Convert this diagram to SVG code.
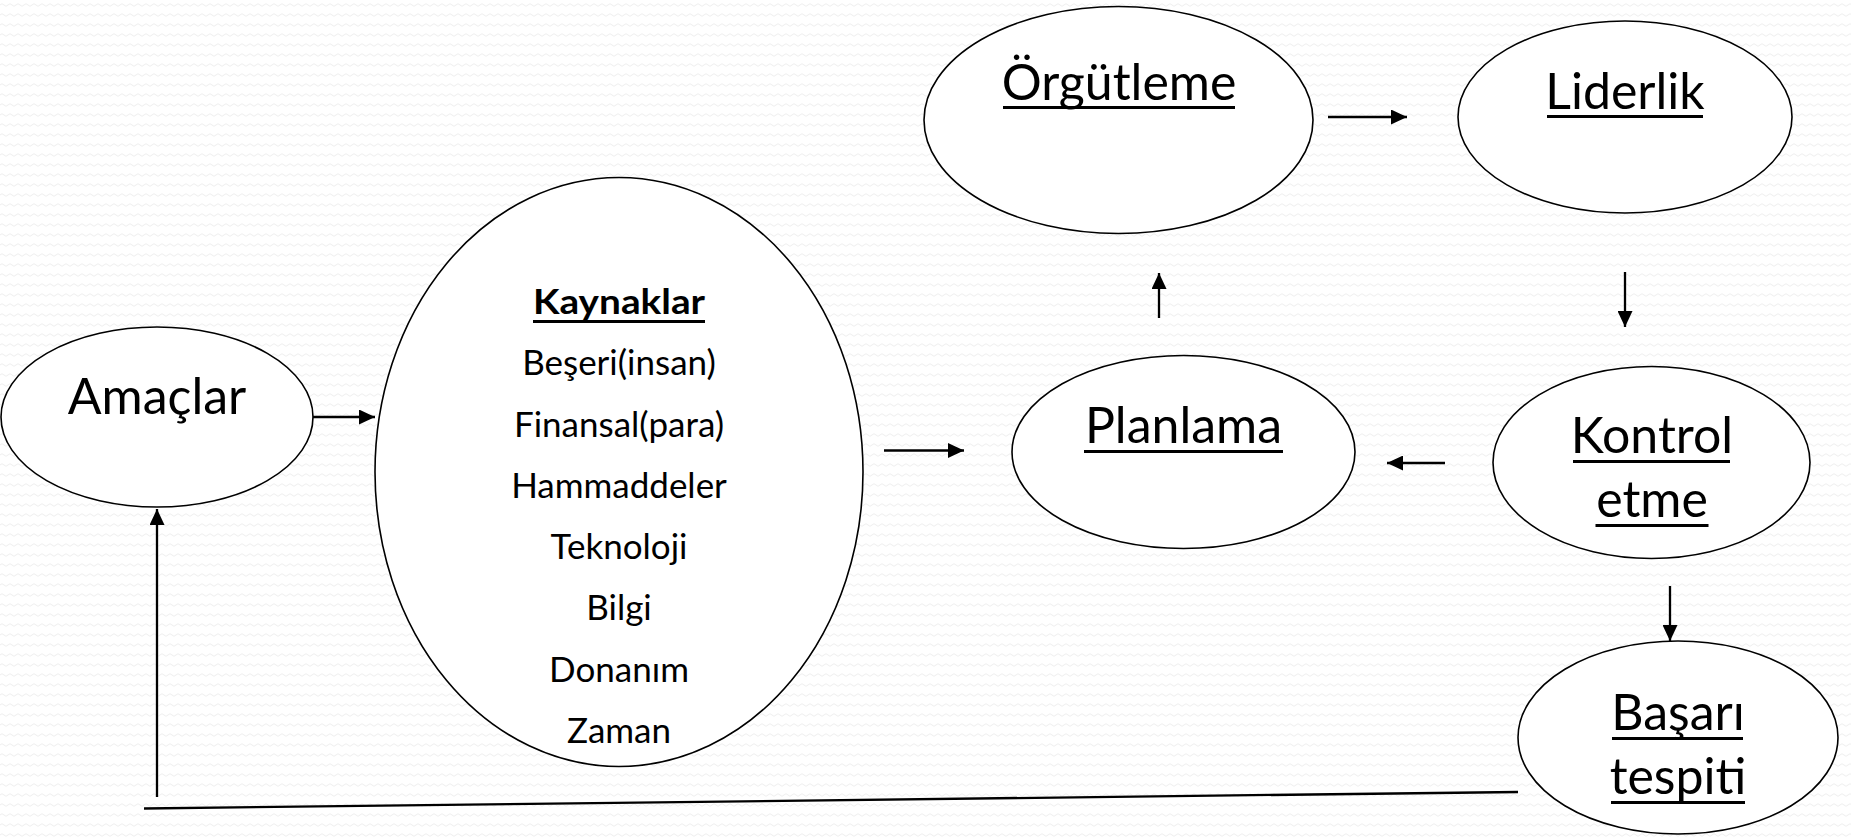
<svg xmlns="http://www.w3.org/2000/svg" width="1851" height="838" viewBox="0 0 1851 838">
  <defs>
    <pattern id="bg" width="8" height="10" patternUnits="userSpaceOnUse">
      <path d="M0 5 Q2 2.5 4 5 T8 5" fill="none" stroke="#ececec" stroke-width="0.9"/>
    </pattern>
    <marker id="ah" markerUnits="userSpaceOnUse" markerWidth="16" markerHeight="15" refX="16" refY="7.5" orient="auto">
      <path d="M0,0 L16,7.5 L0,15 z" fill="#000"/>
    </marker>
    <style>
      .node { fill: #ffffff; stroke: #000000; stroke-width: 1.6; }
      .lbl { font-family: Lato, "Open Sans", "Liberation Sans", sans-serif; font-size: 50px; fill: #000; text-anchor: middle; }
      .item { font-family: Lato, "Open Sans", "Liberation Sans", sans-serif; font-size: 35px; fill: #000; text-anchor: middle; }
      .uline { stroke: #000; stroke-width: 3; }
      .conn { stroke: #000; stroke-width: 2.3; fill: none; }
      .arrow { marker-end: url(#ah); }
    </style>
  </defs>
  <rect width="1851" height="838" fill="#ffffff"/>
  <rect width="1851" height="838" fill="url(#bg)"/>

  <g id="connectors">
    <line class="conn arrow" x1="281" y1="417" x2="375" y2="417"/>
    <line class="conn arrow" x1="884" y1="450.5" x2="964" y2="450.5"/>
    <line class="conn arrow" x1="1159" y1="318" x2="1159" y2="273"/>
    <line class="conn arrow" x1="1328" y1="117" x2="1407" y2="117"/>
    <line class="conn arrow" x1="1625" y1="272" x2="1625" y2="327"/>
    <line class="conn arrow" x1="1445" y1="463" x2="1387" y2="463"/>
    <line class="conn arrow" x1="1670" y1="586" x2="1670" y2="641"/>
    <line class="conn" x1="1518" y1="792" x2="144" y2="808.5"/>
    <line class="conn arrow" x1="157" y1="797" x2="157" y2="509"/>
  </g>

  <g id="amaclar">
    <ellipse class="node" cx="157" cy="417" rx="156" ry="90"/>
    <text class="lbl" x="157" y="414">Amaçlar</text>
  </g>

  <g id="kaynaklar">
    <ellipse class="node" cx="619" cy="472" rx="244" ry="294.5"/>
    <text class="item" x="619" y="314" font-weight="bold" font-size="37" textLength="172" lengthAdjust="spacingAndGlyphs">Kaynaklar</text>
    <line class="uline" x1="533" y1="321.5" x2="705" y2="321.5" stroke-width="2.6"/>
    <text class="item" x="619" y="375">Beşeri(insan)</text>
    <text class="item" x="619" y="436.5">Finansal(para)</text>
    <text class="item" x="619" y="498">Hammaddeler</text>
    <text class="item" x="619" y="559">Teknoloji</text>
    <text class="item" x="619" y="620">Bilgi</text>
    <text class="item" x="619" y="682">Donanım</text>
    <text class="item" x="619" y="743">Zaman</text>
  </g>

  <g id="orgutleme">
    <ellipse class="node" cx="1118.5" cy="120" rx="194.5" ry="113.5"/>
    <text class="lbl" x="1119" y="100">Örgütleme</text>
    <line class="uline" x1="1003" y1="107.5" x2="1235" y2="107.5"/>
  </g>

  <g id="liderlik">
    <ellipse class="node" cx="1625" cy="117" rx="167" ry="96"/>
    <text class="lbl" x="1625" y="109">Liderlik</text>
    <line class="uline" x1="1547" y1="116.5" x2="1703" y2="116.5"/>
  </g>

  <g id="planlama">
    <ellipse class="node" cx="1183.5" cy="452" rx="171.5" ry="96.5"/>
    <text class="lbl" x="1183.5" y="443">Planlama</text>
    <line class="uline" x1="1084" y1="451.5" x2="1283" y2="451.5"/>
  </g>

  <g id="kontrol">
    <ellipse class="node" cx="1651.5" cy="462.5" rx="158.5" ry="96"/>
    <text class="lbl" x="1652" y="453">Kontrol</text>
    <line class="uline" x1="1573" y1="461.5" x2="1730" y2="461.5"/>
    <text class="lbl" x="1652" y="517">etme</text>
    <line class="uline" x1="1595.5" y1="525.5" x2="1708.5" y2="525.5"/>
  </g>

  <g id="basari">
    <ellipse class="node" cx="1678" cy="737.5" rx="160" ry="96.5"/>
    <text class="lbl" x="1678" y="730">Başarı</text>
    <line class="uline" x1="1612" y1="738.5" x2="1743" y2="738.5"/>
    <text class="lbl" x="1678" y="794">tespiti</text>
    <line class="uline" x1="1611" y1="802.5" x2="1745" y2="802.5"/>
  </g>
</svg>
